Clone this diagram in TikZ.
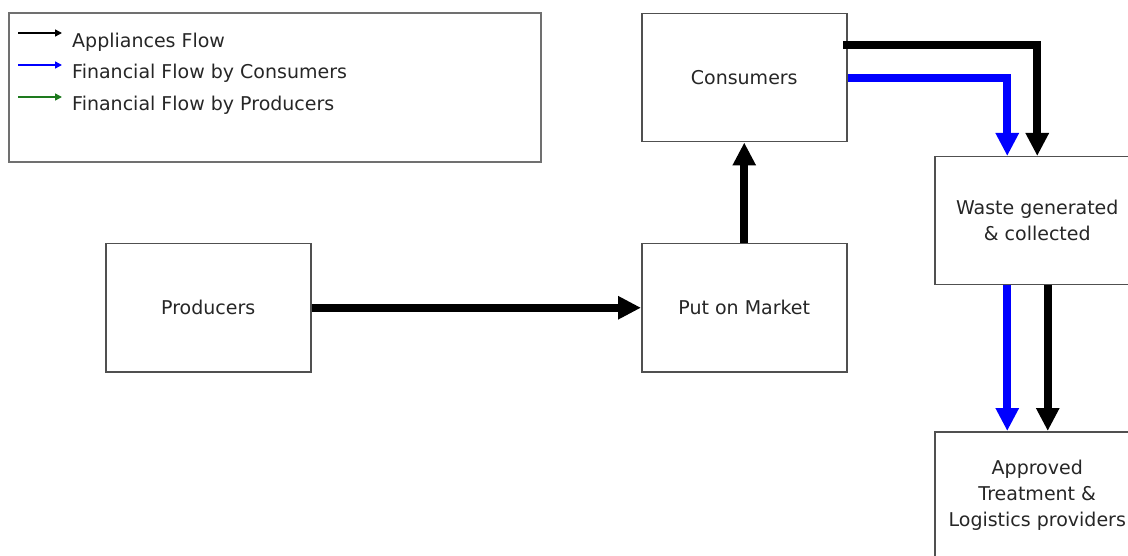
\documentclass[tikz,border=0pt]{standalone}
\usepackage{fontspec}
\setmainfont{DejaVu Sans}
\usetikzlibrary{arrows.meta}
\definecolor{edge}{HTML}{505050}
\definecolor{legedge}{HTML}{707070}
\definecolor{txt}{HTML}{262626}
\definecolor{fgreen}{HTML}{1E7A1E}
\begin{document}
\begin{tikzpicture}[x=1pt,y=-1pt,
  box/.style={draw=edge, line width=1.5pt, fill=white, minimum width=205pt, minimum height=128pt,
    align=center, font=\fontsize{19}{26}\selectfont, text=txt, inner sep=0pt},
  flow/.style={line width=8pt, line join=miter, -{Triangle[length=23pt,width=22pt]}},
  leg/.style={line width=1.5pt, -{Triangle[length=7pt,width=7pt]}},
  legtext/.style={anchor=west, font=\fontsize{19}{22}\selectfont, text=txt, inner sep=0pt}]
\useasboundingbox (0,0) rectangle (1128,556);
\clip (0,0) rectangle (1128,556);

% legend
\node[draw=legedge, line width=2pt, anchor=north west, minimum width=532pt, minimum height=149pt, inner sep=0pt] (legend) at (8,12) {};
\coordinate (a1s) at (18,33); \coordinate (a1e) at (62,33);
\coordinate (a2s) at (18,65); \coordinate (a2e) at (62,65);
\coordinate (a3s) at (18,97); \coordinate (a3e) at (62,97);
\draw[leg, black] (a1s) -- (a1e);
\draw[leg, blue] (a2s) -- (a2e);
\draw[leg, fgreen] (a3s) -- (a3e);
\node[legtext] (l1) at (72,42) {Appliances Flow};
\node[legtext] (l2) at (72,73) {Financial Flow by Consumers};
\node[legtext] (l3) at (72,105) {Financial Flow by Producers};

% boxes
\node[box, anchor=north west] (cons) at (641,13) {Consumers};
\node[box, anchor=north west] (prod) at (105,243) {Producers};
\node[box, anchor=north west] (mkt) at (641,243) {Put on Market};
\node[box, anchor=north west] (waste) at (934,156) {Waste generated\\\& collected};
\node[box, anchor=north west] (appr) at (934,431) {Approved\\Treatment \&\\Logistics providers};

% flows
\coordinate (c1) at (843,45);
\draw[flow] (prod.east) -- (mkt.west);
\draw[flow] (mkt.north) -- (cons.south);
\draw[flow] (c1) -| (waste.north);
\draw[flow, blue] (cons.east) -| ([xshift=-30pt]waste.north);
\draw[flow, blue] ([xshift=-30pt]waste.south) -- ([xshift=-30pt]appr.north);
\draw[flow] ([xshift=10.5pt]waste.south) -- ([xshift=10.5pt]appr.north);
\end{tikzpicture}
\end{document}
